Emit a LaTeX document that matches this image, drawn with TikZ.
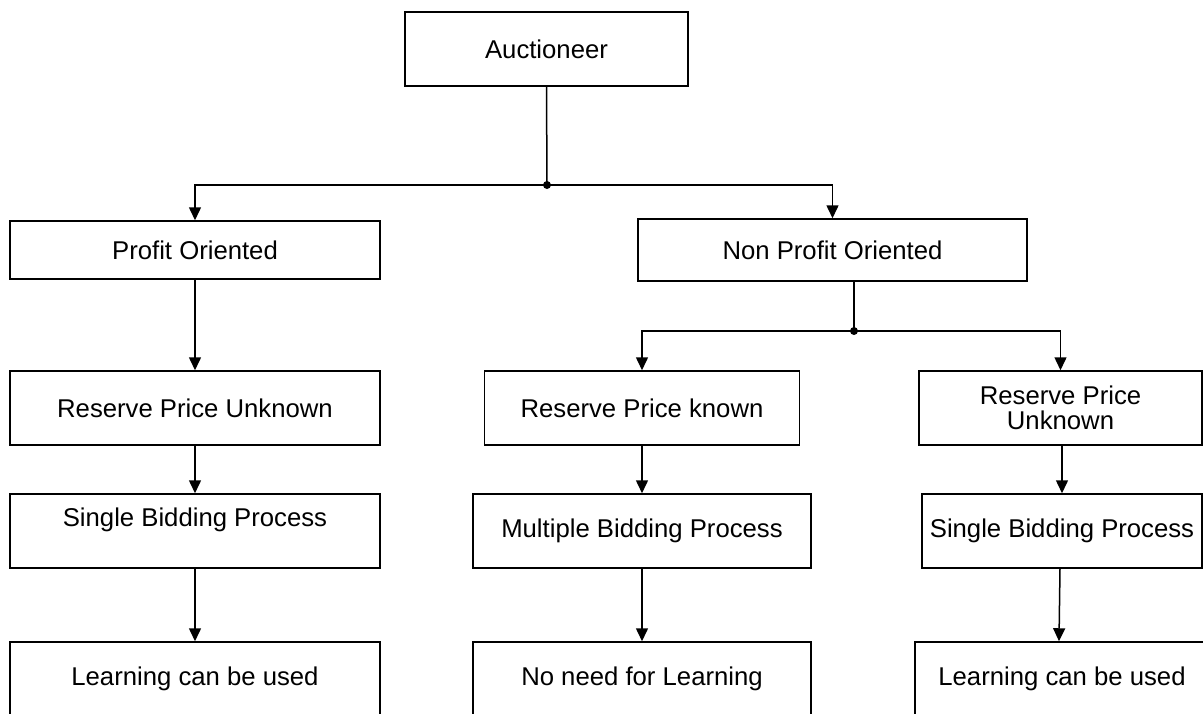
\documentclass[tikz,border=0pt]{standalone}
\usepackage{fontspec}
\setmainfont{Liberation Sans}
\usetikzlibrary{arrows.meta}
\begin{document}
\begin{tikzpicture}[x=1pt, y=-1pt, line width=1.5pt,
        every node/.style={font=\fontsize{25.7}{25}\selectfont},
        box/.style={draw, rectangle, inner sep=0pt, align=center},
        arr/.style={-{Triangle[length=13pt, width=12pt]}},
        joint/.style={circle, fill=black, inner sep=0pt, minimum size=8pt}]
        \useasboundingbox (0,0) rectangle (1203,713);
        \clip (0,0) rectangle (1203,713);

        % Top level
        \node[box, minimum width=283, minimum height=74] (auct) at (546.5, 49) {Auctioneer};

        % Second level
        \node[box, minimum width=370, minimum height=58] (prof) at (195, 250) {Profit Oriented};
        \node[box, minimum width=389, minimum height=62] (nonprof) at (832.5, 250) {Non Profit Oriented};

        % Reserve price
        \node[box, minimum width=370, minimum height=74] (rpu1) at (195, 408) {Reserve Price Unknown};
        \node[box, minimum width=315, minimum height=74] (rpk) at (642, 408) {Reserve Price known};
        \node[box, minimum width=283, minimum height=74] (rpu2) at (1060.5, 408) {Reserve Price\\Unknown};

        % Bidding process
        \node[box, minimum width=370, minimum height=74, text depth=27pt] (sbp1) at (195, 531) {Single Bidding Process};
        \node[box, minimum width=338, minimum height=74] (mbp) at (642, 531) {Multiple Bidding Process};
        \node[box, minimum width=280, minimum height=74] (sbp2) at (1062, 531) {Single Bidding Process};

        % Learning
        \node[box, minimum width=370, minimum height=74] (lcu1) at (195, 679) {Learning can be used};
        \node[box, minimum width=338, minimum height=74] (nnl) at (642, 679) {No need for Learning};
        \node[box, minimum width=294, minimum height=74] (lcu2) at (1062, 679) {Learning can be used};

        % Junctions
        \node[joint] (j1) at (547, 185) {};
        \node[joint] (j2) at (854, 331) {};

        % Connections
        \draw (auct.south) -- (j1.center);
        \draw[arr] (j1.center) -| (prof.north);
        \draw[arr] (j1.center) -| (nonprof.north);
        \draw (nonprof.south -| j2) -- (j2.center);
        \draw[arr] (j2.center) -| (rpk.north);
        \draw[arr] (j2.center) -| (rpu2.north);

        \draw[arr] (prof) -- (rpu1);
        \draw[arr] (rpu1) -- (sbp1);
        \draw[arr] (sbp1) -- (lcu1);
        \draw[arr] (rpk) -- (mbp);
        \draw[arr] (mbp) -- (nnl);
        \draw[arr] (rpu2.south -| sbp2) -- (sbp2);
        \draw[arr] ([xshift=-2pt]sbp2.south) -- ([xshift=-3pt]lcu2.north);
\end{tikzpicture}
\end{document}
